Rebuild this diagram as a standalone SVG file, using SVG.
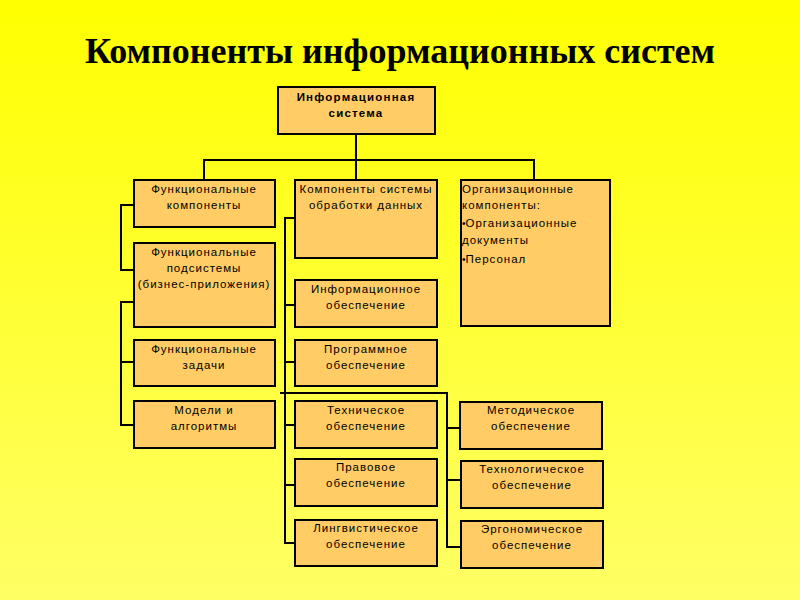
<svg xmlns="http://www.w3.org/2000/svg" width="800" height="600" viewBox="0 0 800 600">
<defs>
<linearGradient id="bg" x1="0" y1="0" x2="0" y2="1">
<stop offset="0" stop-color="#FFFF00"/>
<stop offset="1" stop-color="#FFFF66"/>
</linearGradient>
<style>
.box{fill:#FFCC66;stroke:#000;stroke-width:2}
.ln{fill:none;stroke:#000;stroke-width:2}
.t{font-family:"Liberation Sans",Arial,sans-serif;font-size:11.5px;fill:#000;text-anchor:middle;letter-spacing:1px}
.tl{font-family:"Liberation Sans",Arial,sans-serif;font-size:11.5px;fill:#000;letter-spacing:1px}
.tb{font-family:"Liberation Sans",Arial,sans-serif;font-size:11.5px;font-weight:bold;fill:#000;text-anchor:middle;letter-spacing:1.2px}
.title{font-family:"Liberation Serif","Times New Roman",serif;font-size:36px;font-weight:bold;fill:#000;text-anchor:middle}
</style>
</defs>
<rect width="800" height="600" fill="url(#bg)"/>
<text class="title" x="400" y="63">Компоненты информационных систем</text>

<g id="connectors">
<path class="ln" d="M356 134V180M204 180V160H534V180"/>
<path class="ln" d="M134 205H121V270H134M134 302H121V425H134M121 362H134"/>
<path class="ln" d="M295 218H285V543H295M285 305H295M285 362H295M285 425H295M285 485H295M280 393H447V547H460M447 428H460M447 480H460"/>
</g>

<g id="n-is"><rect class="box" x="278" y="87" width="157" height="47"/>
<text class="tb" x="356" y="101">Информационная</text><text class="tb" x="356" y="117">система</text></g>

<g id="n-fk"><rect class="box" x="134" y="180" width="141" height="47"/>
<text class="t" x="204" y="193">Функциональные</text><text class="t" x="204" y="209">компоненты</text></g>
<g id="n-fp"><rect class="box" x="134" y="243" width="141" height="84"/>
<text class="t" x="204" y="256">Функциональные</text><text class="t" x="204" y="272">подсистемы</text><text class="t" x="204" y="288">(бизнес-приложения)</text></g>
<g id="n-fz"><rect class="box" x="134" y="340" width="141" height="46"/>
<text class="t" x="204" y="353">Функциональные</text><text class="t" x="204" y="369">задачи</text></g>
<g id="n-ma"><rect class="box" x="134" y="401" width="141" height="47"/>
<text class="t" x="204" y="414">Модели и</text><text class="t" x="204" y="430">алгоритмы</text></g>

<g id="n-ks"><rect class="box" x="295" y="180" width="142" height="78"/>
<text class="t" x="366" y="193">Компоненты системы</text><text class="t" x="366" y="209">обработки данных</text></g>
<g id="n-io"><rect class="box" x="295" y="280" width="142" height="47"/>
<text class="t" x="366" y="293">Информационное</text><text class="t" x="366" y="309">обеспечение</text></g>
<g id="n-po"><rect class="box" x="295" y="340" width="142" height="46"/>
<text class="t" x="366" y="353">Программное</text><text class="t" x="366" y="369">обеспечение</text></g>
<g id="n-to"><rect class="box" x="295" y="401" width="142" height="47"/>
<text class="t" x="366" y="414">Техническое</text><text class="t" x="366" y="430">обеспечение</text></g>
<g id="n-pr"><rect class="box" x="295" y="459" width="142" height="47"/>
<text class="t" x="366" y="471">Правовое</text><text class="t" x="366" y="487">обеспечение</text></g>
<g id="n-lo"><rect class="box" x="295" y="520" width="142" height="46"/>
<text class="t" x="366" y="532">Лингвистическое</text><text class="t" x="366" y="548">обеспечение</text></g>

<g id="n-ok"><rect class="box" x="461" y="180" width="149" height="146"/>
<text class="tl" x="462" y="193">Организационные</text><text class="tl" x="462" y="209">компоненты:</text>
<text class="tl" x="462" y="227"><tspan font-size="10" letter-spacing="0">•</tspan>Организационные</text><text class="tl" x="462" y="244">документы</text>
<text class="tl" x="462" y="263"><tspan font-size="10" letter-spacing="0">•</tspan>Персонал</text></g>

<g id="n-mo"><rect class="box" x="460" y="402" width="142" height="47"/>
<text class="t" x="531" y="414">Методическое</text><text class="t" x="531" y="430">обеспечение</text></g>
<g id="n-tho"><rect class="box" x="461" y="461" width="142" height="47"/>
<text class="t" x="532" y="473">Технологическое</text><text class="t" x="532" y="489">обеспечение</text></g>
<g id="n-eo"><rect class="box" x="461" y="521" width="142" height="47"/>
<text class="t" x="532" y="533">Эргономическое</text><text class="t" x="532" y="549">обеспечение</text></g>
</svg>
